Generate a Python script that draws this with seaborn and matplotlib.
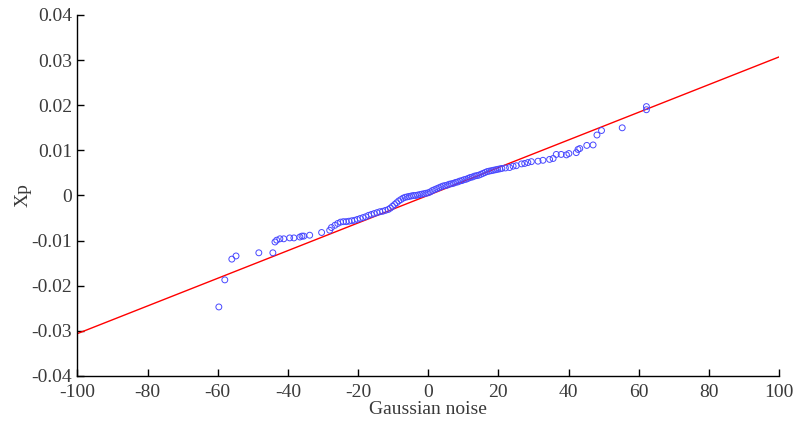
import matplotlib
matplotlib.use("Agg")
import matplotlib.pyplot as plt
import seaborn as sns
import pandas as pd

# Scatter data (Gaussian noise vs Xp)
left_noise = [-59.7, -58.0, -56.0, -54.8, -48.3, -44.3, -43.7, -43.2, -42.3, -41.2,
              -39.5, -38.3, -36.6, -36.0, -35.5, -33.8, -30.4, -28.1, -27.6, -26.6, -25.8]
left_xp = [-0.0247, -0.0187, -0.0141, -0.0134, -0.0127, -0.0127, -0.0103, -0.0099, -0.0096, -0.0096,
           -0.0094, -0.0094, -0.0092, -0.0090, -0.0090, -0.0088, -0.0082, -0.0077, -0.0071, -0.0066, -0.0062]

mid_noise = [-25.0, -24.2, -23.4, -22.6, -21.8, -21.0, -20.2, -19.4, -18.6, -17.8,
             -17.0, -16.2, -15.4, -14.6, -13.8, -13.0, -12.2, -11.4, -10.8, -10.2,
             -9.6, -9.0, -8.4, -7.8, -7.2, -6.6, -6.0, -5.4, -4.8, -4.2,
             -3.6, -3.0, -2.4, -1.8, -1.2, -0.6, 0.0, 0.6, 1.2, 1.8,
             2.4, 3.0, 3.6, 4.2, 4.8, 5.4, 6.0, 6.6, 7.2, 7.8,
             8.4, 9.0, 9.6, 10.2, 10.8, 11.4, 12.0, 12.6, 13.2, 13.8,
             14.4, 15.0, 15.6, 16.2, 16.8, 17.4, 18.0, 18.6, 19.2, 19.8,
             20.4, 21.0]
mid_xp = [-0.0059, -0.0058, -0.0058, -0.0057, -0.0056, -0.0055, -0.0053, -0.0051, -0.0049, -0.0047,
          -0.0044, -0.0042, -0.0040, -0.0038, -0.0036, -0.0035, -0.0033, -0.0031, -0.0028, -0.0024,
          -0.0020, -0.0016, -0.0012, -0.0009, -0.0006, -0.0004, -0.0003, -0.0002, -0.0001, 0.0000,
          0.0000, 0.0001, 0.0002, 0.0003, 0.0004, 0.0005, 0.0006, 0.0008, 0.0011, 0.0013,
          0.0015, 0.0017, 0.0019, 0.0021, 0.0022, 0.0023, 0.0025, 0.0026, 0.0027, 0.0029,
          0.0030, 0.0032, 0.0033, 0.0035, 0.0036, 0.0038, 0.0040, 0.0041, 0.0043, 0.0044,
          0.0045, 0.0047, 0.0049, 0.0051, 0.0053, 0.0054, 0.0055, 0.0056, 0.0057, 0.0058,
          0.0059, 0.0060]

right_noise = [22.0, 23.2, 24.2, 25.1, 26.6, 27.5, 28.4, 29.4, 31.3, 32.7,
               34.6, 35.6, 36.5, 37.9, 39.4, 40.1, 42.2, 42.7, 43.2, 45.2,
               47.0, 48.1, 49.4, 55.3, 62.2, 62.2]
right_xp = [0.0061, 0.0062, 0.0065, 0.0066, 0.0070, 0.0071, 0.0073, 0.0075, 0.0076, 0.0078,
            0.0080, 0.0082, 0.0091, 0.0091, 0.0090, 0.0093, 0.0095, 0.0102, 0.0104, 0.0111,
            0.0112, 0.0134, 0.0144, 0.0150, 0.0190, 0.0197]

noise = left_noise + mid_noise + right_noise
xp = left_xp + mid_xp + right_xp

# Reference line endpoints
line_x = [-100, 100]
line_y = [-0.0306, 0.0307]

x_ticks = [-100, -80, -60, -40, -20, 0, 20, 40, 60, 80, 100]
y_ticks = [-0.04, -0.03, -0.02, -0.01, 0, 0.01, 0.02, 0.03, 0.04]
y_tick_labels = ["-0.04", "-0.03", "-0.02", "-0.01", "0", "0.01", "0.02", "0.03", "0.04"]

sns.set_theme(style="ticks")
plt.rcParams["font.family"] = ["Liberation Serif", "DejaVu Serif"]

fig = plt.figure(figsize=(7.94, 4.21), dpi=100)
ax = fig.add_axes([0.0976, 0.1069, 0.8835, 0.8575])

df = pd.DataFrame({"noise": noise, "xp": xp})
line_df = pd.DataFrame({"x": line_x, "y": line_y})

sns.lineplot(data=line_df, x="x", y="y", color="#ff0000", linewidth=1.0, ax=ax)
sns.scatterplot(data=df, x="noise", y="xp", ax=ax, marker="o", s=18,
                facecolors="none", edgecolor="#4848ff", linewidth=0.7, zorder=3)

ax.set_xlim(-100, 100)
ax.set_ylim(-0.04, 0.04)
ax.set_xticks(x_ticks)
ax.set_xticklabels([str(t) for t in x_ticks])
ax.set_yticks(y_ticks)
ax.set_yticklabels(y_tick_labels)
ax.tick_params(direction="in", length=5, width=1, colors="black",
               labelcolor="#3a3a3a", labelsize=14)
ax.tick_params(axis="x", pad=6)
ax.tick_params(axis="y", pad=4)
ax.set_xlabel("Gaussian noise", fontsize=14, color="#3a3a3a", labelpad=0)
ax.set_ylabel("Xp", fontsize=14, color="#3a3a3a", labelpad=0)
for side in ["top", "right"]:
    ax.spines[side].set_visible(False)
for side in ["left", "bottom"]:
    ax.spines[side].set_color("black")
    ax.spines[side].set_linewidth(1.0)

fig.savefig("out.png", dpi=100)
